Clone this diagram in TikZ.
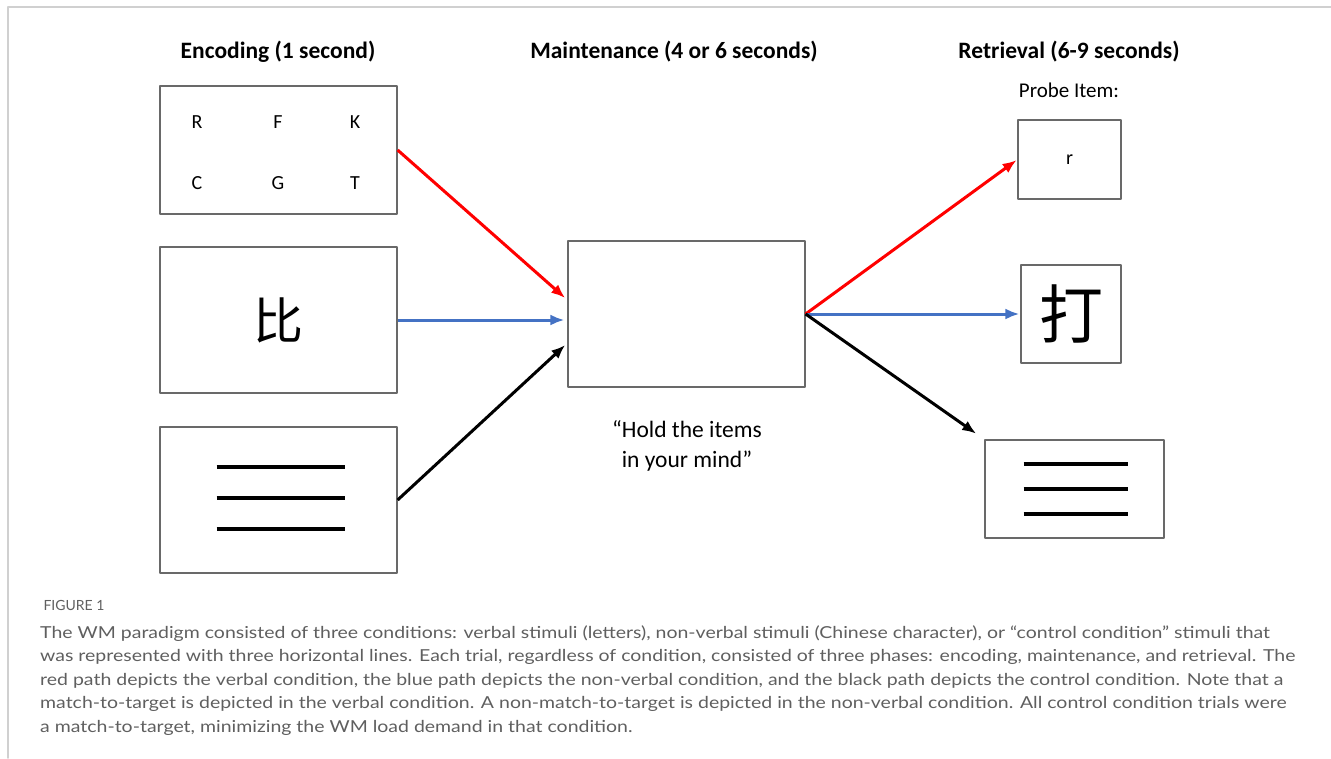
\documentclass[tikz,border=0pt]{standalone}
\usepackage{fontspec}
\setmainfont{Carlito}
\newfontfamily\capfont[FakeStretch=1.18]{Lato}
\newfontfamily\labfont{Lato}
\newfontfamily\cjk{Noto Sans CJK SC}
\usetikzlibrary{arrows.meta, positioning, calc}
\definecolor{PathRed}{RGB}{255, 0, 0}
\definecolor{PathBlue}{RGB}{68, 114, 196}
\definecolor{BoxGray}{RGB}{105, 105, 105}
\definecolor{FrameGray}{RGB}{208, 208, 208}
\definecolor{CapGray}{RGB}{95, 95, 95}
\tikzset{every path/.style={line cap=round, line join=round}, >={Latex[length=14pt, width=11pt]}}
\tikzset{
    stimbox/.style={draw=BoxGray, line width=1.2pt, inner sep=0pt},
    phase/.style={font=\fontsize{23.5}{28}\selectfont\bfseries},
    letter/.style={font=\fontsize{20}{24}\selectfont},
    path/.style={->, line width=3pt, line cap=butt, shorten >=3pt},
    bar/.style={line width=4pt, line cap=butt}
}
\begin{document}
\begin{tikzpicture}[x=1pt, y=-1pt]
    \useasboundingbox (0,0) rectangle (1331,758);
    % frame
    \draw [FrameGray, line width=1.5pt] (8,758) -- (8,7) -- (1331,7);

    % phase titles
    \node [phase] (encoding) at (278,52) {Encoding (1 second)};
    \node [phase] (maintenance) at (674,52) {Maintenance (4 or 6 seconds)};
    \node [phase] (retrieval) at (1069,52) {Retrieval (6-9 seconds)};
    \node [font=\fontsize{21}{25}\selectfont] (probe) at (1069,90) {Probe Item:};

    % encoding stimuli
    \node [stimbox, minimum width=237pt, minimum height=128pt] (enc1) at (278.5,150) {};
    \foreach \ch/\x/\y in {R/197/122, F/278/122, K/355/122, C/197/183, G/278/183, T/355/183}
        \node [letter] (let\ch) at (\x,\y) {\ch};
    \node [stimbox, minimum width=237pt, minimum height=146pt, font=\fontsize{50}{50}\selectfont\cjk] (enc2) at (278.5,320) {比};
    \node [stimbox, minimum width=237pt, minimum height=146pt] (enc3) at (278.5,500) {};
    \foreach \dy in {-33,-2,29}
        \draw [bar] ($(enc3.center)+(-62,\dy)$) -- ($(enc3.center)+(66,\dy)$);

    % maintenance
    \node [stimbox, minimum width=237pt, minimum height=146pt] (maint) at (686.5,314) {};
    \node [font=\fontsize{23.5}{30}\selectfont, align=center] (hold) at (687,446) {``Hold the items\\in your mind''};

    % retrieval probes
    \node [stimbox, minimum width=103pt, minimum height=79pt, letter] (ret1) at (1069.5,159.5) {r};
    \node [stimbox, minimum width=100pt, minimum height=98pt, font=\fontsize{64}{64}\selectfont\cjk] (ret2) at (1071,314) {打};
    \node [stimbox, minimum width=179pt, minimum height=98pt] (ret3) at (1074.5,489) {};
    \foreach \dy in {-25,0,25}
        \draw [bar] ($(ret3.center)+(-51,\dy)$) -- ($(ret3.center)+(53,\dy)$);

    % condition paths
    \draw [path, PathRed] (enc1.east) -- ($(maint.west)+(0,-14)$);
    \draw [path, PathBlue] (enc2.east) -- (maint.west |- enc2.east);
    \draw [path, black] (enc3.east) -- ($(maint.west)+(0,29)$);
    \draw [path, PathRed, shorten >=1pt] (maint.east) -- (ret1.west);
    \draw [path, PathBlue, shorten >=1pt] (maint.east) -- (ret2.west);
    \draw [path, black, shorten >=10pt] (maint.east) -- (ret3.north west);

    % caption
    \node [anchor=west, CapGray, font=\fontsize{14}{16}\selectfont\labfont] (figlabel) at (40,605) {FIGURE 1};
    \node [anchor=north west, inner sep=0pt, CapGray, align=left, font=\fontsize{16.5}{23.6}\selectfont\capfont] (caption) at (40,625) {The WM paradigm consisted of three conditions: verbal stimuli (letters), non-verbal stimuli (Chinese character), or “control condition” stimuli that\\
was represented with three horizontal lines. Each trial, regardless of condition, consisted of three phases: encoding, maintenance, and retrieval. The\\
red path depicts the verbal condition, the blue path depicts the non-verbal condition, and the black path depicts the control condition. Note that a\\
match-to-target is depicted in the verbal condition. A non-match-to-target is depicted in the non-verbal condition. All control condition trials were\\
a match-to-target, minimizing the WM load demand in that condition.};
\end{tikzpicture}
\end{document}
